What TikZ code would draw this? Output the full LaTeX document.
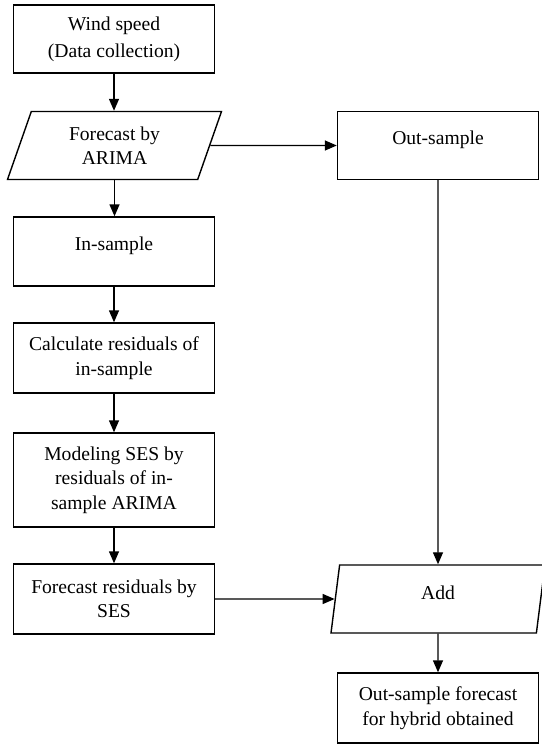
\documentclass[tikz,border=0pt]{standalone}
\usepackage{fontspec}
\setmainfont{Liberation Serif}
\usetikzlibrary{shapes.geometric,arrows.meta}
\begin{document}
\begin{tikzpicture}[x=1pt,y=-1pt,
  txt/.style={font=\fontsize{19.6}{24.5}\selectfont, align=center},
  box/.style={txt, draw, line width=1.4pt, minimum width=201pt, minimum height=69pt, inner sep=0pt},
  para/.style={txt, trapezium, trapezium left angle=58, trapezium right angle=122,
    trapezium stretches body, draw, line width=1.4pt, minimum width=214pt, minimum height=68pt, inner sep=0pt},
  arr/.style={-{Triangle[length=12pt,width=10pt]}, line width=1.4pt}]
\useasboundingbox (0,0) rectangle (541,746);
\node[box, minimum height=68pt, font=\fontsize{19.6}{27}\selectfont] (wind) at (114,39) {Wind speed\\(Data collection)};
\node[para] (arima) at (114.5,145.5) {Forecast by\\ARIMA};
\node[box, minimum height=68pt] (out) at (438,145.5) {\raisebox{6pt}[\height][\depth]{Out-sample}};
\node[box] (insample) at (114,251.5) {\raisebox{6pt}[\height][\depth]{In-sample}};
\node[box, minimum height=70pt] (calc) at (114,358) {Calculate residuals of\\in-sample};
\node[box, minimum height=94pt] (model) at (114,480) {Modeling SES by\\residuals of in-\\sample ARIMA};
\node[box, minimum height=70pt] (resid) at (114,599) {Forecast residuals by\\SES};
\node[para] (add) at (438,599) {\raisebox{6pt}[\height][\depth]{Add}};
\node[box, minimum height=70pt] (final) at (438,708) {Out-sample forecast\\for hybrid obtained};
\draw[arr] (wind.south) -- (wind.south |- arima.north);
\draw[arr] (arima.south) -- (arima.south |- insample.north);
\draw[arr] (arima.east) -- (out.west);
\draw[arr] (insample.south) -- (calc.north);
\draw[arr] (calc.south) -- (model.north);
\draw[arr] (model.south) -- (resid.north);
\draw[arr] (out.south) -- (add.north);
\draw[arr] (resid.east) -- (add.west);
\draw[arr] (add.south) -- (final.north);
\end{tikzpicture}
\end{document}
